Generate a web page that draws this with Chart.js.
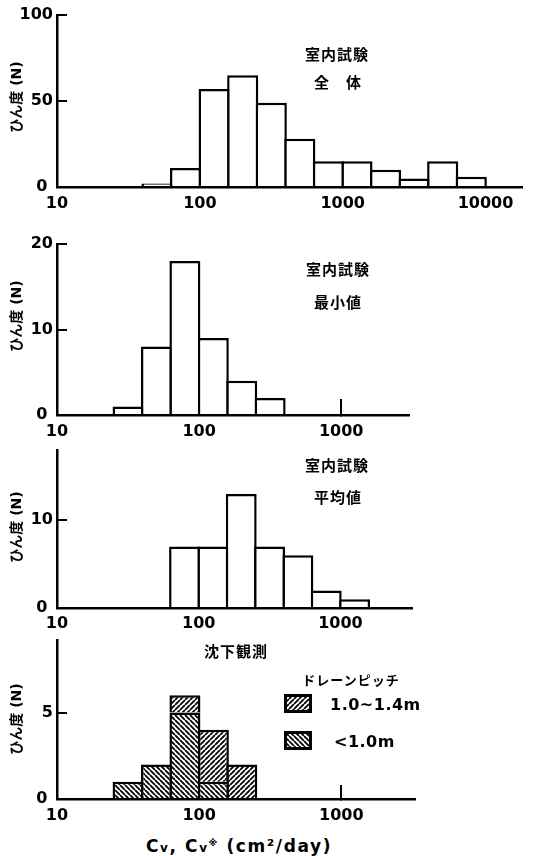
<!DOCTYPE html>
<html>
<head>
<meta charset="utf-8">
<script src="https://cdn.jsdelivr.net/npm/chart.js@4.4.0/dist/chart.umd.min.js"></script>
<style>
  body { margin: 0; background: #fff; }
  #page { position: relative; width: 533px; height: 856px; overflow: hidden; background: #fff; }
  .pane { position: absolute; left: 0; }
  .lbl { position: absolute; transform: translate(-50%, -50%); white-space: nowrap; color: #000;
         font-family: "Noto Sans CJK JP", "DejaVu Sans", sans-serif; font-weight: bold; font-size: 15px; letter-spacing: 1px; }
  .ytitle { position: absolute; transform: translate(-50%, -50%) rotate(-90deg); white-space: nowrap; color: #000;
            font-family: "DejaVu Sans", "Noto Sans CJK JP", sans-serif; font-weight: bold; font-size: 14px; }
  .leg { position: absolute; transform: translateY(-50%); white-space: nowrap; color: #000;
         font-family: "DejaVu Sans", sans-serif; font-weight: bold; font-size: 16px; letter-spacing: 0.5px; }
  .sw { position: absolute; }
  #xtitle { font-family: "DejaVu Sans", sans-serif; font-size: 17px; letter-spacing: 1.6px; }
  #xtitle .s { font-size: 12px; }
  #xtitle sup { font-size: 9px; vertical-align: 6px; }
</style>
</head>
<body>
<div id="page">
  <canvas id="c1" class="pane" width="533" height="215" style="top:0px"></canvas>
  <canvas id="c2" class="pane" width="533" height="225" style="top:215px"></canvas>
  <canvas id="c3" class="pane" width="533" height="197" style="top:435px"></canvas>
  <canvas id="c4" class="pane" width="533" height="205" style="top:625px"></canvas>

  <div class="lbl" style="left:337px;top:53px">室内試験</div>
  <div class="lbl" style="left:338px;top:81px">全　体</div>
  <div class="lbl" style="left:338px;top:268px">室内試験</div>
  <div class="lbl" style="left:338px;top:301px">最小値</div>
  <div class="lbl" style="left:337px;top:464px">室内試験</div>
  <div class="lbl" style="left:338px;top:496px">平均値</div>
  <div class="lbl" style="left:236px;top:650px">沈下観測</div>
  <div class="lbl" style="left:351px;top:679px;font-size:13px">ドレーンピッチ</div>

  <div class="ytitle" style="left:15px;top:97px">ひん度 (N)</div>
  <div class="ytitle" style="left:15px;top:316px">ひん度 (N)</div>
  <div class="ytitle" style="left:15px;top:527px">ひん度 (N)</div>
  <div class="ytitle" style="left:15px;top:719px">ひん度 (N)</div>

  <canvas id="sw1" class="sw" width="28" height="19" style="left:284px;top:694px"></canvas>
  <div class="leg" style="left:330px;top:704px">1.0~1.4m</div>
  <canvas id="sw2" class="sw" width="28" height="19" style="left:284px;top:731px"></canvas>
  <div class="leg" style="left:334px;top:741px">&lt;1.0m</div>

  <div id="xtitle" class="lbl" style="left:239px;top:846px">C<span class="s">v</span>, C<span class="s">v</span><sup>※</sup> (cm²/day)</div>
</div>

<script>
// 階級の境界 (cm2/day, 対数で0.2刻み)
var binEdges = [25.12, 39.81, 63.10, 100, 158.5, 251.2, 398.1, 631.0, 1000, 1585, 2512, 3981, 6310, 10000];

// ひん度 (階級 i = binEdges[i] 〜 binEdges[i+1])
var totalCounts = [null, 2, 11, 57, 65, 49, 28, 15, 15, 10, 5, 15, 6];
var minCounts   = [1, 8, 18, 9, 4, 2];
var meanCounts  = [null, null, 7, 7, 13, 7, 6, 2, 1];
var fieldUnder10 = [1, 2, 5, 1];          // <1.0m
var field10to14  = [null, null, 1, 3, 2]; // 1.0~1.4m

var xTicks = [10, 100, 1000, 10000];
var yTicks1 = [0, 50, 100];
var yTicks2 = [0, 10, 20];
var yTicks3 = [0, 10];
var yTicks4 = [0, 5];

// 斜線パターン
function hatch(dir) {
    var s = 5, c = document.createElement('canvas');
    c.width = c.height = s;
    var g = c.getContext('2d');
    g.fillStyle = '#fff';
    g.fillRect(0, 0, s, s);
    g.strokeStyle = '#000';
    g.lineWidth = 1.8;
    g.beginPath();
    for (var k = -1; k <= 1; k++) {
        if (dir == '/') { g.moveTo(k * s, s); g.lineTo(k * s + s, 0); }
        else { g.moveTo(k * s, 0); g.lineTo(k * s + s, s); }
    }
    g.stroke();
    return g.createPattern(c, 'repeat');
}
var fwd = hatch('/'), back = hatch('\\');

function toPoints(counts) {
    var pts = [];
    counts.forEach(function(v, i) {
        if (v == null) return;
        pts.push({ x: Math.sqrt(binEdges[i] * binEdges[i + 1]), y: v });
    });
    return pts;
}

var tickFont = { family: 'DejaVu Sans', size: 16, weight: 'bold' };

function makeHist(id, p) {
    var h = document.getElementById(id).height;
    return new Chart(document.getElementById(id), {
        type: 'bar',
        data: { datasets: p.datasets },
        options: {
            responsive: false,
            animation: false,
            events: [],
            layout: { padding: { left: 0, top: p.top, right: 533 - p.right, bottom: 0 } },
            plugins: { legend: { display: false }, tooltip: { enabled: false } },
            datasets: { bar: { categoryPercentage: 1, barPercentage: 1.09, borderColor: '#000', borderWidth: 2.5 } },
            scales: {
                x: {
                    type: 'logarithmic', min: 10, max: p.xmax, stacked: !!p.stacked, offset: false,
                    afterBuildTicks: function(s) { s.ticks = xTicks.filter(function(v) { return v <= s.max; }).map(function(v) { return { value: v }; }); },
                    afterFit: function(s) { s.height = h - p.bottom; s.paddingLeft = 0; s.paddingRight = 0; },
                    border: { display: true, color: '#000', width: 2.5 },
                    grid: {
                        offset: false, drawOnChartArea: false, drawTicks: !!p.xTickLen, tickLength: -(p.xTickLen || 0), lineWidth: 2,
                        color: function(c) { return c.tick && c.tick.value == 1000 ? '#000' : 'rgba(0,0,0,0)'; }
                    },
                    ticks: { color: '#000', font: tickFont, padding: p.xPad, maxRotation: 0, autoSkip: false,
                             callback: function(v) { return String(v); } }
                },
                y: {
                    min: 0, max: p.ymax, stacked: !!p.stacked,
                    afterBuildTicks: function(s) { s.ticks = p.yTicks.map(function(v) { return { value: v }; }); },
                    afterFit: function(s) { s.width = 57; s.paddingTop = 0; s.paddingBottom = 0; },
                    border: { display: true, color: '#000', width: 2.5 },
                    grid: { drawOnChartArea: false, drawTicks: true, tickLength: -10, lineWidth: 2, color: '#000' },
                    ticks: { color: '#000', font: tickFont, padding: 14,
                             callback: function(v) { return v == 0 ? '0 ' : String(v); } }
                }
            }
        }
    });
}

var plain = { backgroundColor: '#fff' };

makeHist('c1', { top: 15, bottom: 187, right: 522, xmax: 18000, ymax: 100, yTicks: yTicks1, xPad: 7,
    datasets: [Object.assign({ data: toPoints(totalCounts) }, plain)] });
makeHist('c2', { top: 29, bottom: 200, right: 409, xmax: 3000, ymax: 20, yTicks: yTicks2, xPad: 23.5, xTickLen: 16,
    datasets: [Object.assign({ data: toPoints(minCounts) }, plain)] });
makeHist('c3', { top: 15, bottom: 173, right: 412, xmax: 3200, ymax: 18, yTicks: yTicks3, xPad: 6,
    datasets: [Object.assign({ data: toPoints(meanCounts) }, plain)] });
makeHist('c4', { top: 15, bottom: 174, right: 415, xmax: 3300, ymax: 9.2, yTicks: yTicks4, xPad: 21.5, xTickLen: 14, stacked: true,
    datasets: [
        { label: '<1.0m', data: toPoints(fieldUnder10), backgroundColor: back },
        { label: '1.0~1.4m', data: toPoints(field10to14), backgroundColor: fwd }
    ] });

// 凡例の見本
[['sw1', fwd], ['sw2', back]].forEach(function(a) {
    var c = document.getElementById(a[0]), g = c.getContext('2d');
    g.fillStyle = a[1];
    g.fillRect(0, 0, c.width, c.height);
    g.strokeStyle = '#000';
    g.lineWidth = 3;
    g.strokeRect(1.5, 1.5, c.width - 3, c.height - 3);
});
</script>
</body>
</html>
